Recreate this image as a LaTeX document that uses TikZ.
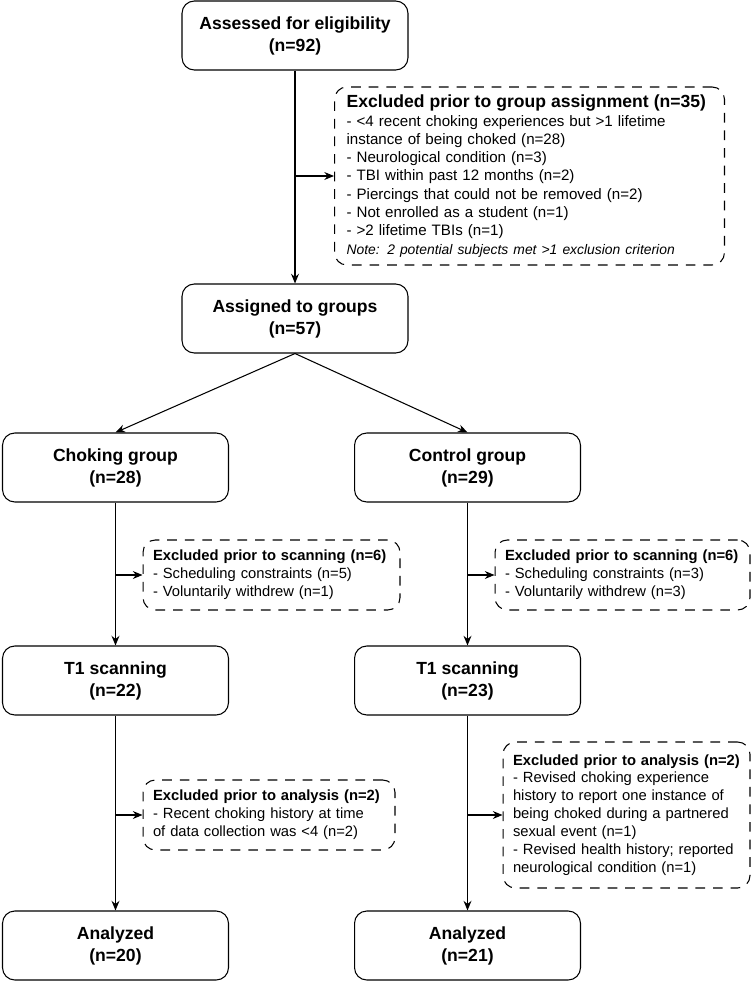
\documentclass[tikz,border=0pt]{standalone}
\usepackage{fontspec}
\setmainfont{Liberation Sans}
\usetikzlibrary{arrows.meta}

\begin{document}
\begin{tikzpicture}[x=0.02cm,y=-0.02cm,
	box/.style={draw,line width=0.6pt,rounded corners=7pt,minimum width=4.52cm,minimum height=1.38cm,align=center,font=\fontsize{10}{12.5}\selectfont\bfseries},
	exclbox/.style={draw,line width=0.6pt,dash pattern=on 5.5pt off 4.5pt,rounded corners=7pt,inner xsep=0.2cm,inner ysep=0pt,align=left,font=\fontsize{8.4}{10.2}\selectfont},
	arr/.style={-{Stealth[length=5.5pt,width=4.5pt]},line width=0.6pt}]
			\useasboundingbox (0,0) rectangle (754,982);
			\node[box] (assessed) at (295,35.5) {Assessed for eligibility\\(n=92)};
			\node[box] (assigned) at (295,318.5) {Assigned to groups\\(n=57)};
			\node[box] (choking) at (115.5,467.5) {Choking group\\(n=28)};
			\node[box] (control) at (467.5,467.5) {Control group\\(n=29)};
			\node[box] (tscanA) at (115.5,680.5) {T1 scanning\\(n=22)};
			\node[box] (tscanB) at (467.5,680.5) {T1 scanning\\(n=23)};
			\node[box] (analyzedA) at (115.5,945.5) {Analyzed\\(n=20)};
			\node[box] (analyzedB) at (467.5,945.5) {Analyzed\\(n=21)};
			\node[exclbox,font=\fontsize{8.6}{10.4}\selectfont,inner xsep=0.24cm,minimum width=7.8cm,minimum height=3.56cm,text width=7.32cm] (exclAssign) at (529.5,176) {{\fontsize{10}{12.5}\selectfont\bfseries Excluded prior to group assignment (n=35)}\\
				- <4 recent choking experiences but >1 lifetime\\
				instance of being choked (n=28)\\
				- Neurological condition (n=3)\\
				- TBI within past 12 months (n=2)\\
				- Piercings that could not be removed (n=2)\\
				- Not enrolled as a student (n=1)\\
				- >2 lifetime TBIs (n=1)\\
				{\fontsize{7.9}{10.4}\selectfont\itshape Note: 2 potential subjects met >1 exclusion criterion}};
			\node[exclbox,minimum width=5.14cm,minimum height=1.4cm,text width=4.74cm] (exclScanA) at (271.5,575) {\textbf{Excluded prior to scanning (n=6)}\\
				- Scheduling constraints (n=5)\\
				- Voluntarily withdrew (n=1)};
			\node[exclbox,minimum width=5.1cm,minimum height=1.4cm,text width=4.7cm] (exclScanB) at (622.5,575) {\textbf{Excluded prior to scanning (n=6)}\\
				- Scheduling constraints (n=3)\\
				- Voluntarily withdrew (n=3)};
			\node[exclbox,minimum width=5.04cm,minimum height=1.4cm,text width=4.64cm] (exclAnaA) at (269,815) {\textbf{Excluded prior to analysis (n=2)}\\
				- Recent choking history at time\\
				of data collection was <4 (n=2)};
			\node[exclbox,minimum width=4.94cm,minimum height=2.92cm,text width=4.54cm] (exclAnaB) at (626.5,815) {\textbf{Excluded prior to analysis (n=2)}\\
				- Revised choking experience\\
				history to report one instance of\\
				being choked during a partnered\\
				sexual event (n=1)\\
				- Revised health history; reported\\
				neurological condition (n=1)};
			\coordinate (brAssign) at (assessed.south |- exclAssign.west);
			\coordinate (brScanA) at (choking.south |- exclScanA.west);
			\coordinate (brScanB) at (control.south |- exclScanB.west);
			\coordinate (brAnaA) at (tscanA.south |- exclAnaA.west);
			\coordinate (brAnaB) at (tscanB.south |- exclAnaB.west);
			\draw[arr] (assessed) -- (assigned);
			\draw[arr] (brAssign) -- (exclAssign);
			\draw[arr] (assigned.south) -- (choking.north);
			\draw[arr] (assigned.south) -- (control.north);
			\draw[arr] (choking) -- (tscanA);
			\draw[arr] (control) -- (tscanB);
			\draw[arr] (brScanA) -- (exclScanA);
			\draw[arr] (brScanB) -- (exclScanB);
			\draw[arr] (tscanA) -- (analyzedA);
			\draw[arr] (tscanB) -- (analyzedB);
			\draw[arr] (brAnaA) -- (exclAnaA);
			\draw[arr] (brAnaB) -- (exclAnaB);
		\end{tikzpicture}
\end{document}
